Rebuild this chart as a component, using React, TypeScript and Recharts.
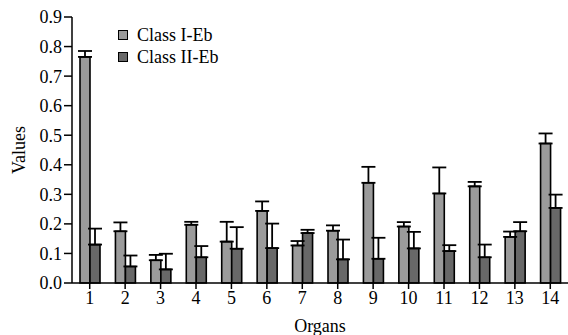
import React from 'react';
import { BarChart, Bar, XAxis, YAxis, ErrorBar, Legend } from 'recharts';

const organs = ['1', '2', '3', '4', '5', '6', '7', '8', '9', '10', '11', '12', '13', '14'];
const classI = [0.765, 0.175, 0.077, 0.197, 0.14, 0.244, 0.127, 0.177, 0.339, 0.191, 0.303, 0.327, 0.156, 0.472];
const classIErr = [0.02, 0.03, 0.018, 0.01, 0.067, 0.032, 0.015, 0.018, 0.054, 0.015, 0.088, 0.015, 0.018, 0.034];
const classII = [0.13, 0.056, 0.046, 0.087, 0.116, 0.118, 0.169, 0.08, 0.082, 0.117, 0.108, 0.087, 0.175, 0.254];
const classIIErr = [0.054, 0.037, 0.053, 0.038, 0.073, 0.083, 0.011, 0.067, 0.071, 0.056, 0.02, 0.043, 0.031, 0.045];
const yTicks = [0, 0.1, 0.2, 0.3, 0.4, 0.5, 0.6, 0.7, 0.8, 0.9];
const seriesNames = ['Class I-Eb', 'Class II-Eb'];
const colors = ['#9b9b9b', '#686868'];

const data = organs.map((o, i) => ({
  organ: o,
  c1: classI[i],
  c1e: [0, classIErr[i]],
  c2: classII[i],
  c2e: [0, classIIErr[i]],
}));

const FONT = '"Liberation Serif", "Times New Roman", serif';
const FS = 18;

const LegendContent = () => (
  <div style={{ fontFamily: FONT, fontSize: FS, color: '#000', lineHeight: '22px', whiteSpace: 'nowrap' }}>
    {seriesNames.map((n, i) => (
      <div key={n} style={{ display: 'flex', alignItems: 'center' }}>
        <span
          style={{
            display: 'inline-block',
            width: 8,
            height: 8,
            background: colors[i],
            border: '1px solid #000',
            marginRight: 9,
          }}
        />
        <span>{n}</span>
      </div>
    ))}
  </div>
);

const YLabel = (props: any) => {
  const vb = props.viewBox || { x: 0, y: 17, width: 72, height: 266 };
  const cx = vb.x + 19;
  const cy = vb.y + vb.height / 2;
  return (
    <text
      x={cx}
      y={cy}
      transform={`rotate(-90, ${cx}, ${cy})`}
      textAnchor="middle"
      dominantBaseline="central"
      fontFamily={FONT}
      fontSize={FS}
      fill="#000"
    >
      Values
    </text>
  );
};

export default function App() {
  return (
    <div style={{ position: 'absolute', left: 0, top: 0, background: '#fff' }}>
      <BarChart
        width={568}
        height={335}
        data={data}
        margin={{ top: 17, right: 0, bottom: 0, left: 0 }}
        barGap={0}
        barSize={10}
      >
        <XAxis
          dataKey="organ"
          height={52}
          stroke="#000"
          strokeWidth={1.5}
          tickSize={6}
          tickMargin={2}
          tick={{ fill: '#000', fontFamily: FONT, fontSize: FS }}
          label={{ value: 'Organs', position: 'insideBottom', offset: 3, fill: '#000', fontFamily: FONT, fontSize: FS }}
        />
        <YAxis
          width={72}
          domain={[0, 0.9]}
          ticks={yTicks}
          interval={0}
          tickFormatter={(v: number) => v.toFixed(1)}
          stroke="#000"
          strokeWidth={1.5}
          tickSize={8}
          tickMargin={2}
          tick={{ fill: '#000', fontFamily: FONT, fontSize: FS }}
          label={<YLabel />}
        />
        <Legend
          layout="horizontal"
          verticalAlign="middle"
          align="center"
          content={<LegendContent />}
          wrapperStyle={{ left: 118, top: 24, width: 170 }}
        />
        <Bar dataKey="c1" name={seriesNames[0]} fill={colors[0]} stroke="#000" strokeWidth={1.6} isAnimationActive={false}>
          <ErrorBar dataKey="c1e" width={7} stroke="#000" strokeWidth={1.8} direction="y" />
        </Bar>
        <Bar dataKey="c2" name={seriesNames[1]} fill={colors[1]} stroke="#000" strokeWidth={1.6} isAnimationActive={false}>
          <ErrorBar dataKey="c2e" width={7} stroke="#000" strokeWidth={1.8} direction="y" />
        </Bar>
      </BarChart>
    </div>
  );
}
